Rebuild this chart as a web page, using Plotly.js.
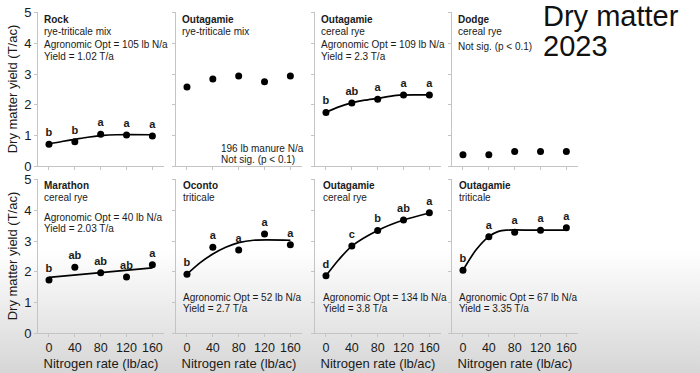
<!DOCTYPE html>
<html>
<head>
<meta charset="utf-8">
<script src="https://cdn.plot.ly/plotly-3.0.1.min.js"></script>
<style>
  html, body { margin: 0; padding: 0; }
  body { width: 700px; height: 373px; overflow: hidden;
         background: linear-gradient(to bottom, #ffffff 0px, #ffffff 250px, #d6d6d6 373px); }
  #chart { width: 700px; height: 373px; }
</style>
</head>
<body>
<div id="chart"></div>
<script>
// ---------- data ----------
const nitrogenRate = [0, 40, 80, 120, 160];
const xTickLabels = ['0', '40', '80', '120', '160'];
const yTickVals = [0, 1, 2, 3, 4, 5];

// top row
const rockYield = [0.71, 0.79, 1.04, 1.01, 0.98];
const rockLetters = ['b', 'b', 'a', 'a', 'a'];
const rockCurveX = [0, 20, 40, 60, 80, 105, 160];
const rockCurveY = [0.72, 0.80, 0.87, 0.94, 0.99, 1.02, 1.02];

const outaMixYield = [2.58, 2.84, 2.94, 2.75, 2.94];

const outaRye1Yield = [1.75, 2.06, 2.18, 2.32, 2.32];
const outaRye1Letters = ['b', 'ab', 'a', 'a', 'a'];
const outaRye1CurveX = [0, 20, 40, 60, 80, 109, 160];
const outaRye1CurveY = [1.76, 1.93, 2.06, 2.15, 2.21, 2.31, 2.32];

const dodgeYield = [0.37, 0.37, 0.47, 0.47, 0.47];

// bottom row
const marathonYield = [1.73, 2.15, 1.97, 1.83, 2.23];
const marathonLetters = ['b', 'ab', 'ab', 'ab', 'a'];
const marathonCurveX = [0, 160];
const marathonCurveY = [1.82, 2.13];

const ocontoYield = [1.92, 2.80, 2.71, 3.23, 2.88];
const ocontoLetters = ['b', 'a', 'a', 'a', 'a'];
const ocontoCurveX = [0, 20, 40, 60, 80, 103, 160];
const ocontoCurveY = [1.92, 2.29, 2.58, 2.80, 2.95, 3.03, 3.03];

const outaRye2Yield = [1.87, 2.84, 3.35, 3.69, 3.93];
const outaRye2Letters = ['d', 'c', 'b', 'ab', 'a'];
const outaRye2CurveX = [0, 20, 40, 80, 120, 160];
const outaRye2CurveY = [1.87, 2.40, 2.84, 3.35, 3.69, 3.92];

const outaTritYield = [2.05, 3.14, 3.29, 3.36, 3.44];
const outaTritLetters = ['b', 'a', 'a', 'a', 'a'];
const outaTritCurveX = [0, 20, 40, 55, 67, 110, 160];
const outaTritCurveY = [2.05, 2.71, 3.15, 3.32, 3.36, 3.36, 3.36];

// panel texts
const siteNames = ['Rock', 'Outagamie', 'Outagamie', 'Dodge', 'Marathon', 'Oconto', 'Outagamie', 'Outagamie'];
const cropNames = ['rye-triticale mix', 'rye-triticale mix', 'cereal rye', 'cereal rye', 'cereal rye', 'triticale', 'cereal rye', 'triticale'];
const noteLines = [
  ['Agronomic Opt = 105 lb N/a', 'Yield = 1.02 T/a'],
  ['196 lb manure N/a', 'Not sig. (p < 0.1)'],
  ['Agronomic Opt = 109 lb N/a', 'Yield = 2.3 T/a'],
  ['Not sig. (p < 0.1)'],
  ['Agronomic Opt = 40 lb N/a', 'Yield = 2.03 T/a'],
  ['Agronomic Opt = 52 lb N/a', 'Yield = 2.7 T/a'],
  ['Agronomic Opt = 134 lb N/a', 'Yield = 3.8 T/a'],
  ['Agronomic Opt = 67 lb N/a', 'Yield = 3.35 T/a']
];
const mainTitle = ['Dry matter', '2023'];
const yTitle = 'Dry matter yield (T/ac)';
const xTitle = 'Nitrogen rate (lb/ac)';

// ---------- build ----------
const W = 700, H = 373;
const FONT = 'Liberation Sans, Arial, sans-serif';
const INK = '#1a1a1a';
const AXC = '#c4c4c4';

const panels = [
  {y: rockYield, letters: rockLetters, cx: rockCurveX, cy: rockCurveY},
  {y: outaMixYield},
  {y: outaRye1Yield, letters: outaRye1Letters, cx: outaRye1CurveX, cy: outaRye1CurveY},
  {y: dodgeYield},
  {y: marathonYield, letters: marathonLetters, cx: marathonCurveX, cy: marathonCurveY},
  {y: ocontoYield, letters: ocontoLetters, cx: ocontoCurveX, cy: ocontoCurveY},
  {y: outaRye2Yield, letters: outaRye2Letters, cx: outaRye2CurveX, cy: outaRye2CurveY},
  {y: outaTritYield, letters: outaTritLetters, cx: outaTritCurveX, cy: outaTritCurveY}
];

// layout geometry in pixels
const colLeft = [38, 176, 315, 452];
const colWidth = 126;
const rowTop = [12, 179];
const rowBottom = [166, 333];
const textLeft = [42, 180, 319, 456, 42, 181, 321, 457];

const px = x => x / W;
const py = y => 1 - y / H;

const data = [];
const layout = {
  width: W, height: H,
  margin: {l: 0, r: 0, t: 0, b: 0},
  paper_bgcolor: 'rgba(0,0,0,0)',
  plot_bgcolor: 'rgba(0,0,0,0)',
  showlegend: false,
  font: {family: FONT, color: INK},
  annotations: []
};

panels.forEach((p, i) => {
  const row = i < 4 ? 0 : 1;
  const col = i % 4;
  const k = i + 1;
  const xa = 'x' + (k === 1 ? '' : k);
  const ya = 'y' + (k === 1 ? '' : k);
  const isBottom = row === 1;
  const isLeft = col === 0;

  layout['xaxis' + (k === 1 ? '' : k)] = {
    domain: [px(colLeft[col]), px(colLeft[col] + colWidth)],
    anchor: ya,
    range: [-17, 178],
    showgrid: false, zeroline: false,
    showline: true, linecolor: AXC, linewidth: 1,
    ticks: 'outside', ticklen: 3, tickcolor: AXC, tickwidth: 1,
    tickvals: nitrogenRate, ticktext: xTickLabels,
    showticklabels: isBottom,
    tickfont: {size: 12.5, color: INK, family: FONT},
    title: isBottom ? {text: xTitle, font: {size: 13, color: INK, family: FONT}, standoff: 4} : undefined
  };
  layout['yaxis' + (k === 1 ? '' : k)] = {
    domain: [py(rowBottom[row]), py(rowTop[row])],
    anchor: xa,
    range: [0, 5.03],
    showgrid: false, zeroline: false,
    showline: true, linecolor: AXC, linewidth: 1,
    ticks: 'outside', ticklen: 3, tickcolor: AXC, tickwidth: 1,
    tickvals: yTickVals,
    showticklabels: isLeft,
    tickfont: {size: 13, color: INK, family: FONT},
    title: isLeft ? {text: yTitle, font: {size: 13, color: INK, family: FONT}, standoff: 3} : undefined
  };

  if (p.cx) {
    data.push({
      type: 'scatter', mode: 'lines', x: p.cx, y: p.cy, xaxis: xa, yaxis: ya,
      line: {color: '#000', width: 1.7, shape: 'spline', smoothing: 0.8},
      hoverinfo: 'skip'
    });
  }
  data.push({
    type: 'scatter', mode: p.letters ? 'markers+text' : 'markers',
    x: nitrogenRate, y: p.y, xaxis: xa, yaxis: ya,
    marker: {color: '#000', size: 7},
    text: p.letters || undefined,
    textposition: 'top center',
    textfont: {size: 11, color: INK, family: FONT, weight: 'bold'},
    cliponaxis: false
  });

  // panel text
  const tx = textLeft[i];
  const ann = (text, y, size, extra) => layout.annotations.push(Object.assign({
    xref: 'paper', yref: 'paper', x: px(tx), y: py(y), xanchor: 'left', yanchor: 'middle',
    text: text, showarrow: false, font: {size: size, color: INK, family: FONT}
  }, extra || {}));

  const titleY = row === 0 ? 19 : 185;
  ann('<b>' + siteNames[i] + '</b>', titleY, 10);
  ann(cropNames[i], titleY + 12, 10);

  const notes = noteLines[i];
  if (i === 1) {
    ann(notes[0], 148, 10, {x: px(219)});
    ann(notes[1], 159, 10, {x: px(219)});
  } else if (i === 3) {
    ann(notes[0], 47, 10);
  } else if (row === 0 || i === 4) {
    const base = row === 0 ? 45 : 217;
    ann(notes[0], base, 10);
    ann(notes[1], base + 11.5, 10);
  } else {
    ann(notes[0], 297, 10);
    ann(notes[1], 308, 10);
  }
});

// main title
layout.annotations.push({
  xref: 'paper', yref: 'paper', x: px(541), y: py(16), xanchor: 'left', yanchor: 'middle',
  text: mainTitle[0], showarrow: false, font: {size: 29, color: '#111', family: FONT}
});
layout.annotations.push({
  xref: 'paper', yref: 'paper', x: px(541), y: py(46), xanchor: 'left', yanchor: 'middle',
  text: mainTitle[1], showarrow: false, font: {size: 29, color: '#111', family: FONT}
});

Plotly.newPlot('chart', data, layout, {staticPlot: true, displayModeBar: false});
</script>
</body>
</html>
